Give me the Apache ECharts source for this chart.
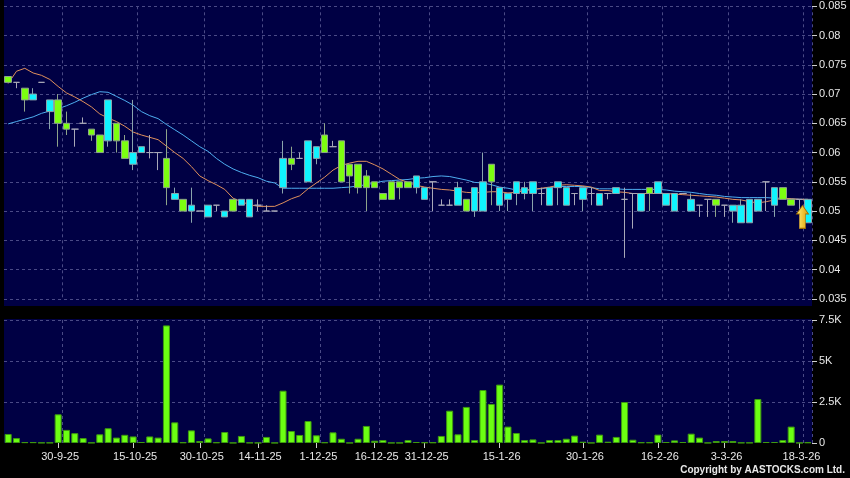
<!DOCTYPE html>
<html><head><meta charset="utf-8">
<script src="https://cdn.jsdelivr.net/npm/echarts@6/dist/echarts.min.js"></script>
<style>html,body{margin:0;padding:0;background:#000;}#c{width:850px;height:478px;}</style>
</head><body><div id="c"></div>
<script>
// x-axis date labels and the bar index each one sits on
const tickLabels = ['30-9-25','15-10-25','30-10-25','14-11-25','1-12-25','16-12-25','31-12-25','15-1-26','30-1-26','16-2-26','3-3-26','18-3-26'];
const tickIndex  = [6,15,23,30,37,44,50,59,69,78,86,95];

const opens = [0.073,0.072,0.071,0.069,0.072,0.067,0.069,0.065,0.064,0.065,
0.064,0.063,0.062,0.065,0.062,0.058,0.060,0.060,0.060,0.059,
0.052,0.052,0.050,0.050,0.049,0.051,0.049,0.052,0.051,0.049,
0.051,0.050,0.050,0.054,0.059,0.059,0.055,0.059,0.063,0.061,
0.062,0.058,0.058,0.056,0.055,0.053,0.055,0.055,0.055,0.054,
0.052,0.055,0.051,0.051,0.051,0.052,0.050,0.050,0.058,0.051,
0.052,0.053,0.053,0.053,0.053,0.051,0.054,0.051,0.053,0.052,
0.053,0.051,0.053,0.053,0.052,0.053,0.050,0.054,0.053,0.051,
0.050,0.053,0.050,0.051,0.052,0.052,0.051,0.050,0.048,0.048,
0.050,0.055,0.051,0.054,0.052,0.052,0.048];
const closes = [0.072,0.072,0.069,0.070,0.072,0.069,0.065,0.064,0.064,0.065,
0.063,0.060,0.069,0.062,0.059,0.060,0.061,0.060,0.060,0.054,
0.053,0.050,0.051,0.050,0.051,0.051,0.050,0.050,0.052,0.052,
0.051,0.050,0.050,0.059,0.058,0.059,0.062,0.061,0.060,0.061,
0.055,0.056,0.054,0.054,0.054,0.052,0.052,0.054,0.054,0.056,
0.054,0.055,0.051,0.051,0.054,0.050,0.054,0.055,0.055,0.054,
0.053,0.055,0.054,0.055,0.053,0.054,0.055,0.054,0.053,0.054,
0.053,0.053,0.053,0.054,0.052,0.053,0.053,0.053,0.055,0.053,
0.053,0.053,0.052,0.051,0.052,0.051,0.051,0.051,0.051,0.052,
0.052,0.055,0.054,0.052,0.051,0.052,0.052];
const lows = [0.072,0.071,0.067,0.069,0.072,0.064,0.061,0.063,0.061,0.065,
0.062,0.060,0.061,0.060,0.059,0.057,0.060,0.059,0.057,0.051,
0.052,0.050,0.048,0.050,0.049,0.050,0.049,0.050,0.051,0.049,
0.050,0.050,0.050,0.053,0.057,0.059,0.055,0.058,0.060,0.061,
0.055,0.053,0.053,0.050,0.054,0.052,0.052,0.052,0.054,0.053,
0.052,0.050,0.051,0.051,0.051,0.050,0.049,0.050,0.051,0.050,
0.050,0.051,0.052,0.050,0.051,0.051,0.051,0.051,0.051,0.050,
0.051,0.051,0.052,0.053,0.042,0.047,0.050,0.050,0.053,0.051,
0.050,0.053,0.050,0.049,0.049,0.049,0.049,0.048,0.048,0.048,
0.050,0.050,0.049,0.052,0.051,0.047,0.048];
const highs = [0.073,0.072,0.071,0.071,0.072,0.069,0.070,0.067,0.064,0.066,
0.064,0.063,0.069,0.065,0.063,0.069,0.061,0.063,0.060,0.064,
0.054,0.052,0.054,0.050,0.051,0.051,0.050,0.052,0.052,0.052,
0.052,0.051,0.050,0.062,0.061,0.060,0.062,0.061,0.065,0.062,
0.062,0.058,0.058,0.057,0.055,0.053,0.055,0.055,0.055,0.056,
0.054,0.055,0.052,0.052,0.055,0.052,0.054,0.060,0.058,0.054,
0.053,0.055,0.055,0.055,0.054,0.054,0.055,0.054,0.053,0.054,
0.054,0.053,0.053,0.054,0.054,0.053,0.053,0.054,0.055,0.053,
0.053,0.053,0.053,0.051,0.052,0.052,0.051,0.051,0.052,0.052,
0.052,0.055,0.054,0.054,0.052,0.052,0.052];
const volumes = [550,300,50,50,20,20,1750,800,600,300,
20,530,900,330,500,400,60,400,330,7170,
1260,40,770,120,280,40,670,10,430,20,
10,370,10,3190,730,490,1340,470,40,650,
260,10,260,1040,140,180,10,10,180,60,
40,40,430,1970,530,2200,180,3230,2380,3560,
1000,610,180,220,10,180,180,260,450,80,
10,510,80,370,2500,200,40,40,510,60,
160,60,570,330,10,120,120,120,20,20,
2680,60,60,180,1000,10,40];
const maShort = [0.0718,0.0739,0.0744,0.0736,0.0732,0.0725,0.0713,0.0702,0.0695,0.0687,
0.0678,0.0666,0.0659,0.0653,0.0645,0.0635,0.0630,0.0626,0.0622,0.0611,
0.0600,0.0590,0.0576,0.0560,0.0552,0.0545,0.0537,0.0522,0.0516,0.0511,
0.0508,0.0508,0.0508,0.0514,0.0521,0.0526,0.0538,0.0548,0.0558,0.0570,
0.0578,0.0582,0.0585,0.0585,0.0579,0.0572,0.0563,0.0554,0.0549,0.0544,
0.0541,0.0539,0.0537,0.0536,0.0534,0.0532,0.0531,0.0532,0.0533,0.0533,
0.0531,0.0532,0.0535,0.0537,0.0539,0.0541,0.0544,0.0545,0.0544,0.0543,
0.0541,0.0535,0.0535,0.0533,0.0532,0.0530,0.0530,0.0530,0.0530,0.0530,
0.0529,0.0528,0.0527,0.0526,0.0525,0.0524,0.0522,0.0520,0.0519,0.0516,
0.0514,0.0516,0.0519,0.0522,0.0521,0.0520,0.0520];
const maLong = [0.0649,0.0653,0.0657,0.0661,0.0667,0.0671,0.0675,0.0680,0.0686,0.0693,
0.0699,0.0704,0.0703,0.0696,0.0689,0.0681,0.0670,0.0663,0.0658,0.0648,
0.0639,0.0630,0.0620,0.0610,0.0602,0.0590,0.0580,0.0572,0.0566,0.0561,
0.0557,0.0551,0.0548,0.0539,0.0539,0.0539,0.0539,0.0539,0.0539,0.0539,
0.0540,0.0541,0.0543,0.0545,0.0548,0.0551,0.0552,0.0553,0.0554,0.0556,
0.0557,0.0559,0.0560,0.0559,0.0556,0.0553,0.0549,0.0548,0.0545,0.0541,
0.0539,0.0536,0.0536,0.0537,0.0538,0.0540,0.0542,0.0542,0.0542,0.0542,
0.0540,0.0538,0.0538,0.0538,0.0537,0.0537,0.0537,0.0537,0.0537,0.0536,
0.0534,0.0533,0.0532,0.0530,0.0528,0.0527,0.0525,0.0524,0.0523,0.0523,
0.0523,0.0523,0.0522,0.0522,0.0521,0.0520,0.0520];

const categories = volumes.map((v, i) => {
  const k = tickIndex.indexOf(i);
  return k >= 0 ? tickLabels[k] : '';
});
const candles = opens.map((o, i) => [o, closes[i], lows[i], highs[i]]);
const labelSet = new Set(tickIndex);
const gridSet = new Set(tickIndex.map(i => i + 1));

const FONT = 'Liberation Sans, Arial, sans-serif';
const PANEL = '#000044';
const GRIDC = '#4a4a86';

const chart = echarts.init(document.getElementById('c'), null, {renderer: 'canvas'});
const xBase = {
  type: 'category', data: categories, boundaryGap: true,
  axisLine: {show: false}
};
chart.setOption({
  animation: false,
  backgroundColor: '#000',
  title: {
    text: 'Copyright by AASTOCKS.com Ltd.', right: 5, top: 465, padding: 0,
    textStyle: {color: '#e8e8e8', fontSize: 10, fontWeight: 'bold', fontFamily: FONT}
  },
  graphic: [
    {type: 'rect', z: -10, silent: true, shape: {x: 4, y: 0, width: 808, height: 306}, style: {fill: PANEL}},
    {type: 'rect', z: -10, silent: true, shape: {x: 4, y: 319, width: 808, height: 124}, style: {fill: PANEL}}
  ],
  grid: [
    {left: 4, width: 808, top: 6.3, height: 292.5, outerBoundsMode: 'none'},
    {left: 4, width: 808, top: 320, height: 123, outerBoundsMode: 'none'}
  ],
  xAxis: [
    Object.assign({}, xBase, {
      gridIndex: 0,
      axisTick: {show: false}, axisLabel: {show: false},
      splitLine: {show: true, interval: (i) => gridSet.has(i), lineStyle: {color: GRIDC, type: [3, 3], width: 1}}
    }),
    Object.assign({}, xBase, {
      gridIndex: 1,
      axisTick: {show: true, alignWithLabel: true, length: 5, interval: (i) => labelSet.has(i), lineStyle: {color: '#d0d0d0'}},
      axisLabel: {show: true, interval: (i) => labelSet.has(i), color: '#e8e8e8', fontSize: 11, fontFamily: FONT, margin: 8, padding: [0, 0, 0, 4]},
      splitLine: {show: true, interval: (i) => gridSet.has(i), lineStyle: {color: GRIDC, type: [3, 3], width: 1}}
    })
  ],
  yAxis: [
    {
      gridIndex: 0, type: 'value', position: 'right', min: 0.035, max: 0.085, interval: 0.005,
      axisLine: {show: false},
      axisTick: {show: true, length: 5, lineStyle: {color: '#d0d0d0'}},
      axisLabel: {color: '#e8e8e8', fontSize: 11, fontFamily: FONT, margin: 7, formatter: v => String(+v.toFixed(3))},
      splitLine: {show: true, lineStyle: {color: GRIDC, type: [3, 3], width: 1}}
    },
    {
      gridIndex: 1, type: 'value', position: 'right', min: 0, max: 7500, interval: 2500,
      axisLine: {show: false},
      axisTick: {show: true, length: 5, lineStyle: {color: '#d0d0d0'}},
      axisLabel: {color: '#e8e8e8', fontSize: 11, fontFamily: FONT, margin: 7, formatter: v => v === 0 ? '0' : (v / 1000) + 'K'},
      splitLine: {show: true, showMinLine: false, lineStyle: {color: GRIDC, type: [3, 3], width: 1}}
    }
  ],
  series: [
    {
      type: 'line', xAxisIndex: 0, yAxisIndex: 0, data: maLong, showSymbol: false, symbol: 'none',
      lineStyle: {color: '#4eaef0', width: 1}, z: 1
    },
    {
      type: 'line', xAxisIndex: 0, yAxisIndex: 0, data: maShort, showSymbol: false, symbol: 'none',
      lineStyle: {color: '#e0905c', width: 1}, z: 1
    },
    {
      type: 'candlestick', xAxisIndex: 0, yAxisIndex: 0, data: candles, barWidth: 7, z: 3,
      itemStyle: {
        color: '#10f4ff', color0: '#7cff10',
        borderColor: '#8aa4ac', borderColor0: '#8ea48a', borderColorDoji: '#a8a8b8', borderWidth: 1
      },
      markPoint: {
        silent: true,
        label: {show: false},
        data: [{
          coord: [95, 0.049], symbol: 'path://M6,0 L12,9 L9,9 L9,24 L3,24 L3,9 L0,9 Z',
          symbolSize: [12, 23], symbolOffset: [3, 0],
          itemStyle: {
            color: new echarts.graphic.LinearGradient(0, 0, 1, 0, [{offset: 0, color: '#fff27a'}, {offset: 1, color: '#e09a00'}]),
            borderColor: '#a06a00', borderWidth: 0.8
          }
        }]
      }
    },
    {
      type: 'bar', xAxisIndex: 1, yAxisIndex: 1, data: volumes, barWidth: 7,
      itemStyle: {color: '#6cff12', borderColor: '#3f9a10', borderWidth: 1}
    }
  ]
});
</script></body></html>
